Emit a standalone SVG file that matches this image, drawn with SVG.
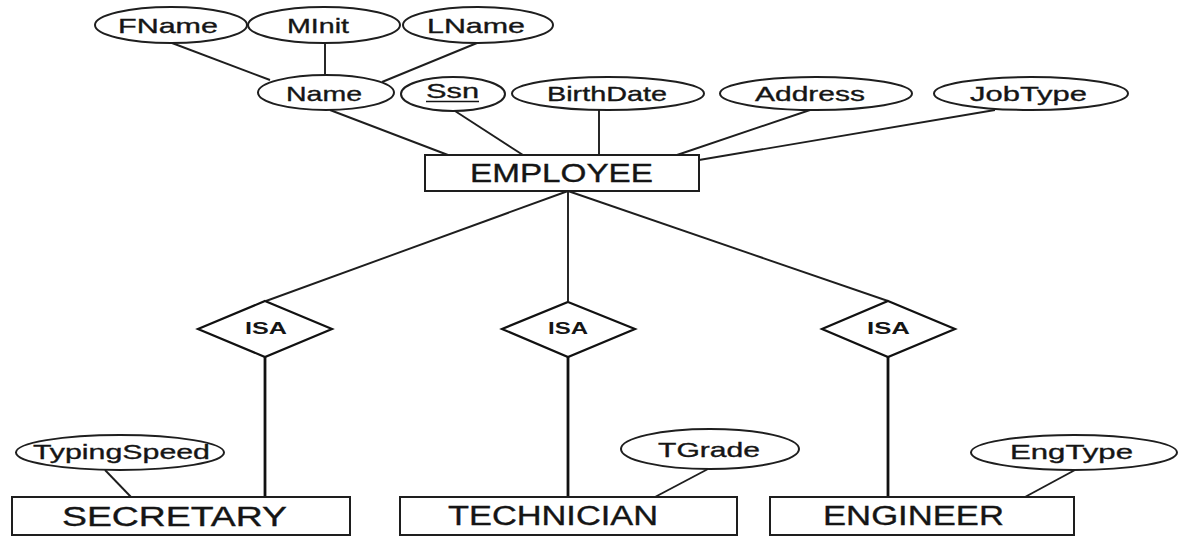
<svg xmlns="http://www.w3.org/2000/svg" width="1178" height="536" viewBox="0 0 1178 536">
<style>
.attr{fill:#fff;stroke:#1e1e1e;stroke-width:2}
.ent{fill:#fff;stroke:#1e1e1e;stroke-width:2}
.rel{fill:#fff;stroke:#111;stroke-width:2.2}
.t{font-family:"Liberation Sans",Arial,sans-serif;fill:#151515;stroke:#151515;stroke-width:0.35}
.ta{font-size:21px}
.te{font-size:25px}
.tb{font-size:27px}
.ti{font-size:16px;font-weight:bold;stroke-width:0}
.ln{stroke:#1e1e1e;stroke-width:1.9;fill:none}
.lt{stroke:#111;stroke-width:2.8;fill:none}
</style>
<rect width="1178" height="536" fill="#fff"/>
<g id="connectors">
<line class="ln" x1="172" y1="43" x2="270" y2="80"/>
<line class="ln" x1="325" y1="43" x2="325" y2="75"/>
<line class="ln" x1="477" y1="43" x2="382" y2="82"/>
<line class="ln" x1="330" y1="110" x2="448" y2="155"/>
<line class="ln" x1="455" y1="111" x2="523" y2="155"/>
<line class="ln" x1="599" y1="110" x2="599" y2="155"/>
<line class="ln" x1="810" y1="110" x2="677" y2="155"/>
<line class="ln" x1="995" y1="110" x2="699" y2="160"/>
<line class="ln" x1="568" y1="191" x2="266" y2="301"/>
<line class="ln" x1="568" y1="191" x2="568" y2="301"/>
<line class="ln" x1="568" y1="191" x2="888" y2="301"/>
<line class="lt" x1="265" y1="357" x2="265" y2="497"/>
<line class="lt" x1="568" y1="357" x2="568" y2="497"/>
<line class="lt" x1="888" y1="357" x2="888" y2="497"/>
<line class="ln" x1="105" y1="470" x2="131" y2="497"/>
<line class="ln" x1="708" y1="469" x2="655" y2="497"/>
<line class="ln" x1="1075" y1="470" x2="1025" y2="497"/>
</g>
<g id="FName"><ellipse class="attr" cx="171" cy="25" rx="76" ry="18"/><text class="t ta" x="118" y="33" textLength="100" lengthAdjust="spacingAndGlyphs">FName</text></g>
<g id="MInit"><ellipse class="attr" cx="324" cy="25" rx="76" ry="18"/><text class="t ta" x="287" y="33" textLength="62" lengthAdjust="spacingAndGlyphs">MInit</text></g>
<g id="LName"><ellipse class="attr" cx="478" cy="25" rx="75" ry="18"/><text class="t ta" x="427" y="33" textLength="98" lengthAdjust="spacingAndGlyphs">LName</text></g>
<g id="Name"><ellipse class="attr" cx="326" cy="92.5" rx="68" ry="17.5"/><text class="t ta" x="286" y="101" textLength="76" lengthAdjust="spacingAndGlyphs">Name</text></g>
<g id="Ssn"><ellipse class="attr" cx="453" cy="94" rx="52" ry="17"/><text class="t ta" x="426" y="98" textLength="53" lengthAdjust="spacingAndGlyphs">Ssn</text><line x1="426" y1="101.5" x2="479" y2="101.5" stroke="#151515" stroke-width="1.6"/></g>
<g id="BirthDate"><ellipse class="attr" cx="608" cy="93.5" rx="96" ry="16.5"/><text class="t ta" x="547" y="101" textLength="120" lengthAdjust="spacingAndGlyphs">BirthDate</text></g>
<g id="Address"><ellipse class="attr" cx="816" cy="93.5" rx="96" ry="16.5"/><text class="t ta" x="755" y="101" textLength="110" lengthAdjust="spacingAndGlyphs">Address</text></g>
<g id="JobType"><ellipse class="attr" cx="1031" cy="93.5" rx="97" ry="16.5"/><text class="t ta" x="970" y="101" textLength="117" lengthAdjust="spacingAndGlyphs">JobType</text></g>
<g id="EMPLOYEE"><rect class="ent" x="425" y="155" width="274" height="36"/><text class="t te" x="470" y="182" textLength="183" lengthAdjust="spacingAndGlyphs">EMPLOYEE</text></g>
<g id="ISA1"><polygon class="rel" points="265,301 332,329 265,357 198,329"/><text class="t ti" x="245" y="334" textLength="42" lengthAdjust="spacingAndGlyphs">ISA</text></g>
<g id="ISA2"><polygon class="rel" points="568,302 635,329 568,357 502,329"/><text class="t ti" x="548" y="334" textLength="40" lengthAdjust="spacingAndGlyphs">ISA</text></g>
<g id="ISA3"><polygon class="rel" points="888,301 955,329 888,357 822,329"/><text class="t ti" x="867" y="334" textLength="43" lengthAdjust="spacingAndGlyphs">ISA</text></g>
<g id="TypingSpeed"><ellipse class="attr" cx="120" cy="452.5" rx="104" ry="17.5"/><text class="t ta" x="33" y="459" textLength="177" lengthAdjust="spacingAndGlyphs">TypingSpeed</text></g>
<g id="TGrade"><ellipse class="attr" cx="710" cy="449" rx="89" ry="20"/><text class="t ta" x="658" y="457" textLength="102" lengthAdjust="spacingAndGlyphs">TGrade</text></g>
<g id="EngType"><ellipse class="attr" cx="1074" cy="452.5" rx="103" ry="17.5"/><text class="t ta" x="1010" y="459" textLength="123" lengthAdjust="spacingAndGlyphs">EngType</text></g>
<g id="SECRETARY"><rect class="ent" x="12" y="497" width="338" height="38"/><text class="t tb" x="62" y="526" textLength="225" lengthAdjust="spacingAndGlyphs">SECRETARY</text></g>
<g id="TECHNICIAN"><rect class="ent" x="400" y="497" width="337" height="38"/><text class="t tb" x="448" y="525" textLength="210" lengthAdjust="spacingAndGlyphs">TECHNICIAN</text></g>
<g id="ENGINEER"><rect class="ent" x="770" y="497" width="304" height="38"/><text class="t tb" x="823" y="525" textLength="181" lengthAdjust="spacingAndGlyphs">ENGINEER</text></g>
</svg>
